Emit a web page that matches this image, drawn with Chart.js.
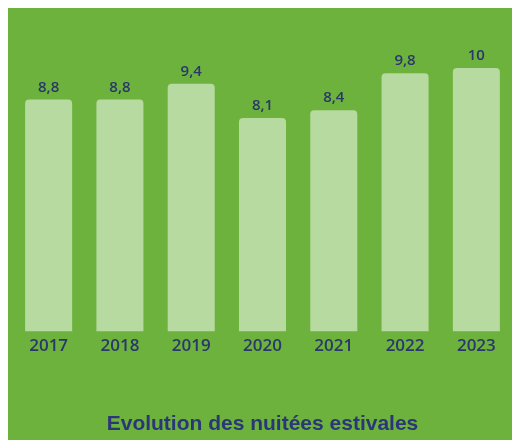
<!DOCTYPE html>
<html>
<head>
<meta charset="utf-8">
<script src="https://cdn.jsdelivr.net/npm/chart.js@4/dist/chart.umd.min.js"></script>
<style>
  html, body { margin: 0; padding: 0; background: #fff; }
  #bg { position: absolute; left: 8px; top: 8px; width: 504px; height: 432px; background: #6cb23c; }
  #wrap { position: absolute; left: 0; top: 0; width: 512px; height: 441px; }
</style>
</head>
<body>
<div id="bg"></div>
<div id="wrap"><canvas id="nuitees"></canvas></div>
<script>
var years = ['2017', '2018', '2019', '2020', '2021', '2022', '2023'];
var nuitees = [8.8, 8.8, 9.4, 8.1, 8.4, 9.8, 10];

var navy = '#2a376c';

// labels au-dessus des barres (virgule décimale)
var valueLabels = {
    id: 'valueLabels',
    afterDatasetsDraw: function(chart) {
        var ctx = chart.ctx;
        var meta = chart.getDatasetMeta(0);
        ctx.save();
        ctx.fillStyle = navy;
        ctx.font = '600 15px "Open Sans", sans-serif';
        ctx.textAlign = 'center';
        ctx.textBaseline = 'alphabetic';
        meta.data.forEach(function(bar, i) {
            var txt = String(nuitees[i]).replace('.', ',');
            ctx.fillText(txt, bar.x, bar.y - 8);
        });
        ctx.restore();
    }
};

new Chart('nuitees', {
    type: 'bar',
    data: {
        labels: years,
        datasets: [{
            data: nuitees,
            backgroundColor: '#b6da9f',
            borderRadius: 4,
            borderSkipped: 'start',
            barPercentage: 0.66,
            categoryPercentage: 1
        }]
    },
    options: {
        responsive: true,
        maintainAspectRatio: false,
        animation: false,
        layout: { padding: { left: 13, right: 0, top: 68, bottom: 4 } },
        plugins: {
            legend: { display: false },
            tooltip: { enabled: false },
            title: {
                display: true,
                position: 'bottom',
                text: 'Evolution des nuitées estivales',
                color: '#2b3678',
                font: { family: '"Liberation Sans", Arial, sans-serif', size: 21, weight: 'bold' },
                padding: { top: 50, bottom: 0 }
            }
        },
        scales: {
            x: {
                grid: { display: false, drawTicks: false },
                border: { display: false },
                ticks: {
                    color: navy,
                    padding: 5,
                    font: { family: '"Open Sans", sans-serif', size: 17, weight: '600' }
                }
            },
            y: {
                display: false,
                min: 0,
                max: 10
            }
        }
    },
    plugins: [valueLabels]
});
</script>
</body>
</html>
